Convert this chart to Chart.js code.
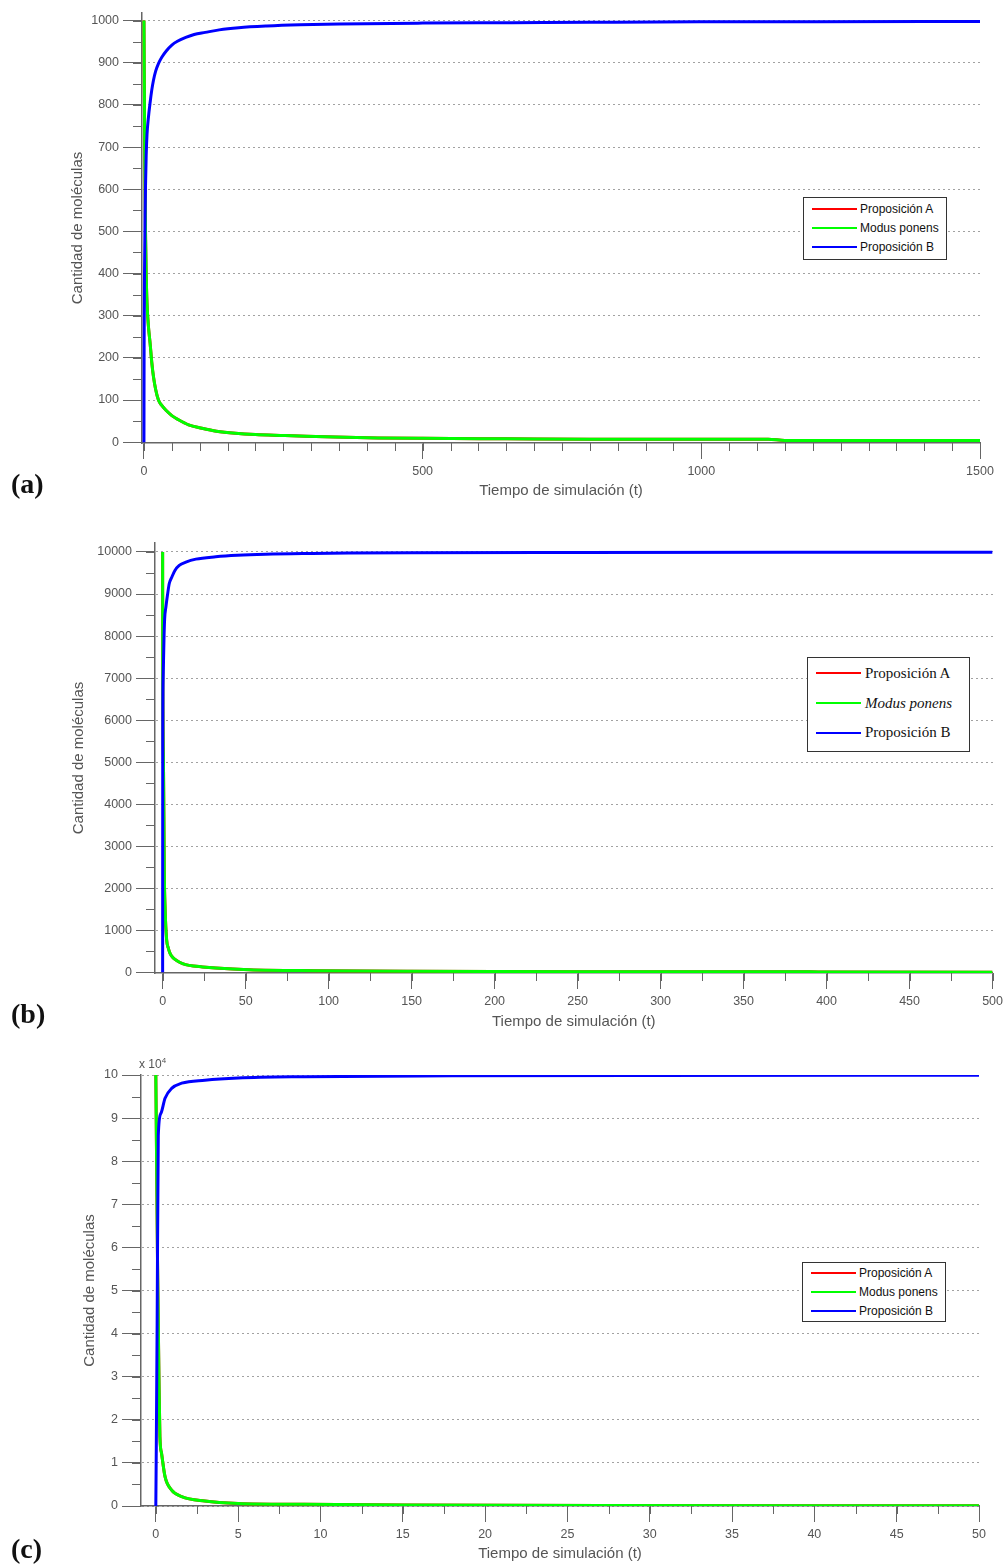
<!DOCTYPE html>
<html lang="es">
<head>
<meta charset="utf-8">
<title>Proposición A, Modus ponens, Proposición B</title>
<script src="https://cdn.jsdelivr.net/npm/chart.js@4.4.1/dist/chart.umd.min.js"></script>
<style>
  html, body { margin: 0; padding: 0; background: #fff; }
  #page { position: relative; width: 1008px; height: 1564px; overflow: hidden; }
  canvas { position: absolute; left: 0; }
  .tag { position: absolute; left: 11px; font: bold 28px "Liberation Serif", serif; line-height: 30px; color: #111; }
  .legend { position: absolute; box-sizing: border-box; border: 1px solid #333; background: #fff; color: #111; }
  .legend .row { position: absolute; left: 0; right: 0; height: 20px; display: flex; align-items: center; white-space: nowrap; }
  .legend .swatch { display: inline-block; height: 2px; }
  .mult { position: absolute; font: 12px "Liberation Sans", Arial, sans-serif; color: #555; }
  .mult sup { font-size: 8px; }
</style>
</head>
<body>
<div id="page">
  <canvas id="chartA" width="1008" height="500" style="top:0px"></canvas>
  <canvas id="chartB" width="1008" height="520" style="top:520px"></canvas>
  <canvas id="chartC" width="1008" height="516" style="top:1048px"></canvas>
  <div class="tag" style="top:469px">(a)</div>
  <div class="tag" style="top:999px">(b)</div>
  <div class="tag" style="top:1534px">(c)</div>
  <div class="mult" style="left:139px;top:1056px">x 10<sup>4</sup></div>
</div>
<script>
// --- DATOS ---
const seriesNames = ['Proposición A', 'Modus ponens', 'Proposición B'];
const seriesColors = ['#ff0000', '#00ff00', '#0000ff'];

// (a) 1000 moleculas
const xTicksA = [0, 500, 1000, 1500];
const yTicksA = [0, 100, 200, 300, 400, 500, 600, 700, 800, 900, 1000];
const tModusA = [0, 0.5, 1, 2, 3, 4, 5.5, 8, 11, 14, 17, 21, 26, 32, 40, 50, 62, 80, 104, 130, 164, 200, 253, 343, 420, 500, 650, 800, 1000, 1120, 1150, 1300, 1500];
const modusA  = [1000, 880, 770, 600, 480, 400, 330, 275, 235, 190, 156, 125, 100, 87, 75, 63, 53, 41, 33, 26, 21, 18, 16, 12, 10, 9, 8, 7, 7, 7, 4, 4, 4];
const tPropBA = [0, 0.3, 1, 2, 3, 4, 5.5, 8, 11, 14, 17, 21, 26, 32, 40, 50, 60, 75, 90, 110, 135, 170, 220, 280, 350, 500, 660, 800, 1000, 1200, 1500];
const propBA  = [0, 230, 400, 540, 620, 680, 730, 770, 805, 835, 858, 880, 898, 913, 928, 942, 951, 960, 967, 972, 978, 983, 987, 990, 992, 994, 995, 996, 997, 997, 998];

// (b) 10000 moleculas
const xTicksB = [0, 50, 100, 150, 200, 250, 300, 350, 400, 450, 500];
const yTicksB = [0, 1000, 2000, 3000, 4000, 5000, 6000, 7000, 8000, 9000, 10000];
const tModusB = [0, 0.05, 0.5, 1, 1.5, 2.4, 3.4, 4.4, 6, 8.4, 12, 16, 24, 32, 52, 92, 150, 250, 390, 400, 500];
const modusB  = [10000, 7500, 5000, 2400, 1500, 780, 580, 460, 360, 285, 210, 166, 130, 104, 64, 40, 25, 15, 12, 6, 5];
const tPropBB = [0, 0.05, 0.3, 0.8, 1.2, 2, 3, 4, 5.5, 7.4, 10, 14, 20, 32, 45, 62, 90, 112, 150, 250, 400, 500];
const propBB  = [0, 5000, 7000, 7900, 8400, 8700, 9000, 9250, 9400, 9560, 9680, 9760, 9830, 9885, 9920, 9945, 9965, 9976, 9985, 9990, 9993, 9995];

// (c) 100000 moleculas (eje en x 10^4)
const xTicksC = [0, 5, 10, 15, 20, 25, 30, 35, 40, 45, 50];
const yTicksC = [0, 10000, 20000, 30000, 40000, 50000, 60000, 70000, 80000, 90000, 100000];
const tModusC = [0, 0.05, 0.1, 0.19, 0.25, 0.35, 0.56, 0.96, 1.57, 2.98, 5, 9, 15, 27, 50];
const modusC  = [100000, 79000, 58000, 30000, 16000, 12200, 6800, 3700, 2200, 1160, 600, 400, 250, 120, 60];
const tPropBC = [0, 0.03, 0.08, 0.15, 0.31, 0.56, 0.96, 1.57, 2.98, 5, 9, 18, 30, 50];
const propBC  = [0, 14000, 42000, 86000, 91100, 94600, 96900, 98100, 98800, 99300, 99600, 99800, 99900, 99950];

// A y Modus ponens se consumen 1:1 -> misma curva, la roja queda tapada por la verde
const tPropAA = tModusA, propAA = modusA;
const tPropAB = tModusB, propAB = modusB;
const tPropAC = tModusC, propAC = modusC;

const pts = (ts, vs) => ts.map((t, i) => ({ x: t, y: vs[i] }));

const tickFont = { family: '"Liberation Sans", Arial, sans-serif', size: 12.5 };
const titleFont = { family: '"Liberation Sans", Arial, sans-serif', size: 15 };

// petites marques secondaires sur les axes
const minorTicks = {
  id: 'minorTicks',
  afterDraw(chart, args, opts) {
    const { ctx } = chart;
    const sx = chart.scales.x, sy = chart.scales.y;
    ctx.save();
    ctx.strokeStyle = '#666';
    ctx.lineWidth = 1;
    ctx.beginPath();
    for (let k = Math.ceil(sx.min / opts.x); k * opts.x <= sx.max + 1e-9; k++) {
      const px = Math.round(sx.getPixelForValue(k * opts.x)) + 0.5;
      ctx.moveTo(px, sx.top);
      ctx.lineTo(px, sx.top + 8);
    }
    for (let k = Math.ceil(sy.min / opts.y); k * opts.y <= sy.max + 1e-9; k++) {
      const py = Math.round(sy.getPixelForValue(k * opts.y)) + 0.5;
      ctx.moveTo(sy.right, py);
      ctx.lineTo(sy.right - 9, py);
    }
    ctx.stroke();
    ctx.restore();
  }
};

function makePanel(p) {
  const ctx = document.getElementById(p.id).getContext('2d');
  const H = ctx.canvas.height;
  return new Chart(ctx, {
    type: 'line',
    data: {
      datasets: p.series.map((s, i) => ({
        label: seriesNames[i],
        data: pts(s[0], s[1]),
        borderColor: seriesColors[i],
        backgroundColor: seriesColors[i],
        borderWidth: 3,
        pointRadius: 0,
        cubicInterpolationMode: 'monotone',
        order: 3 - i // B encima de todo
      }))
    },
    options: {
      responsive: false,
      animation: false,
      events: [],
      layout: { padding: { top: p.top, right: 1008 - p.right, bottom: 0, left: 0 } },
      plugins: {
        legend: { display: false },
        tooltip: { enabled: false },
        minorTicks: p.minor
      },
      scales: {
        x: {
          type: 'linear',
          min: p.xMin, max: p.xMax,
          afterBuildTicks: s => { s.ticks = p.xTicks.map(v => ({ value: v })); },
          afterFit: s => { s.height = H - p.bottom; },
          ticks: { callback: v => String(v), color: '#555', font: tickFont, padding: 5, maxRotation: 0, autoSkip: false },
          grid: { drawOnChartArea: false, tickLength: 16, tickColor: '#666', tickWidth: 1 },
          border: { color: '#666', width: 1.5 },
          title: { display: true, text: 'Tiempo de simulación (t)', color: '#555', font: titleFont, padding: { top: 0, bottom: p.xTitlePad } }
        },
        y: {
          type: 'linear',
          min: p.yMin, max: p.yMax,
          afterBuildTicks: s => { s.ticks = p.yTicks.map(v => ({ value: v })); },
          afterFit: s => { s.width = p.left; },
          ticks: { callback: v => String(v / p.yDiv), color: '#555', font: tickFont, padding: 4, autoSkip: false },
          grid: { color: '#444', lineWidth: 1, tickLength: 19, tickColor: '#666', tickWidth: 1 },
          border: { color: '#666', width: 1.5, dash: [1, 4], dashOffset: -6 },
          title: { display: true, text: 'Cantidad de moléculas', color: '#555', font: titleFont, padding: { top: p.yTitlePad, bottom: 0 } }
        }
      }
    },
    plugins: [minorTicks]
  });
}

function makeLegend(c) {
  const box = document.createElement('div');
  box.className = 'legend';
  Object.assign(box.style, { left: c.left + 'px', top: c.top + 'px', width: c.w + 'px', height: c.h + 'px', font: c.font });
  seriesNames.forEach((name, i) => {
    const row = document.createElement('div');
    row.className = 'row';
    row.style.top = (c.rows[i] - c.top - 11) + 'px';
    const sw = document.createElement('span');
    sw.className = 'swatch';
    sw.style.cssText = 'margin-left:' + c.lineX + 'px;width:45px;background:' + seriesColors[i];
    const tx = document.createElement('span');
    tx.textContent = name;
    tx.style.marginLeft = c.gap + 'px';
    if (c.italic && i === 1) tx.style.fontStyle = 'italic';
    row.append(sw, tx);
    box.append(row);
  });
  document.getElementById('page').append(box);
}

makePanel({
  id: 'chartA', top: 13, bottom: 443, left: 142, right: 980,
  xMin: -3.5, xMax: 1500, yMin: -2, yMax: 1018, yDiv: 1,
  xTicks: xTicksA, yTicks: yTicksA, minor: { x: 50, y: 50 },
  xTitlePad: 0, yTitlePad: 69,
  series: [[tPropAA, propAA], [tModusA, modusA], [tPropBA, propBA]]
});
makePanel({
  id: 'chartB', top: 23, bottom: 453, left: 155, right: 993,
  xMin: -4.6, xMax: 500, yMin: -15, yMax: 10214, yDiv: 1,
  xTicks: xTicksB, yTicks: yTicksB, minor: { x: 25, y: 500 },
  xTitlePad: 9, yTitlePad: 70,
  series: [[tPropAB, propAB], [tModusB, modusB], [tPropBB, propBB]]
});
makePanel({
  id: 'chartC', top: 27, bottom: 458, left: 141, right: 979,
  xMin: -0.9, xMax: 50, yMin: 0, yMax: 100000, yDiv: 10000,
  xTicks: xTicksC, yTicks: yTicksC, minor: { x: 2.5, y: 5000 },
  xTitlePad: 1, yTitlePad: 81,
  series: [[tPropAC, propAC], [tModusC, modusC], [tPropBC, propBC]]
});

makeLegend({ left: 803, top: 197, w: 144, h: 63, rows: [209.3, 227.7, 246.7], lineX: 8, gap: 3,
  font: '12px "Liberation Sans", Arial, sans-serif' });
makeLegend({ left: 807, top: 657, w: 163, h: 95, rows: [673.3, 703.3, 732.7], lineX: 8, gap: 4,
  font: '15px "Liberation Serif", serif', italic: true });
makeLegend({ left: 802, top: 1262, w: 144, h: 60, rows: [1273.3, 1291.7, 1310.7], lineX: 8, gap: 3,
  font: '12px "Liberation Sans", Arial, sans-serif' });
</script>
</body>
</html>
